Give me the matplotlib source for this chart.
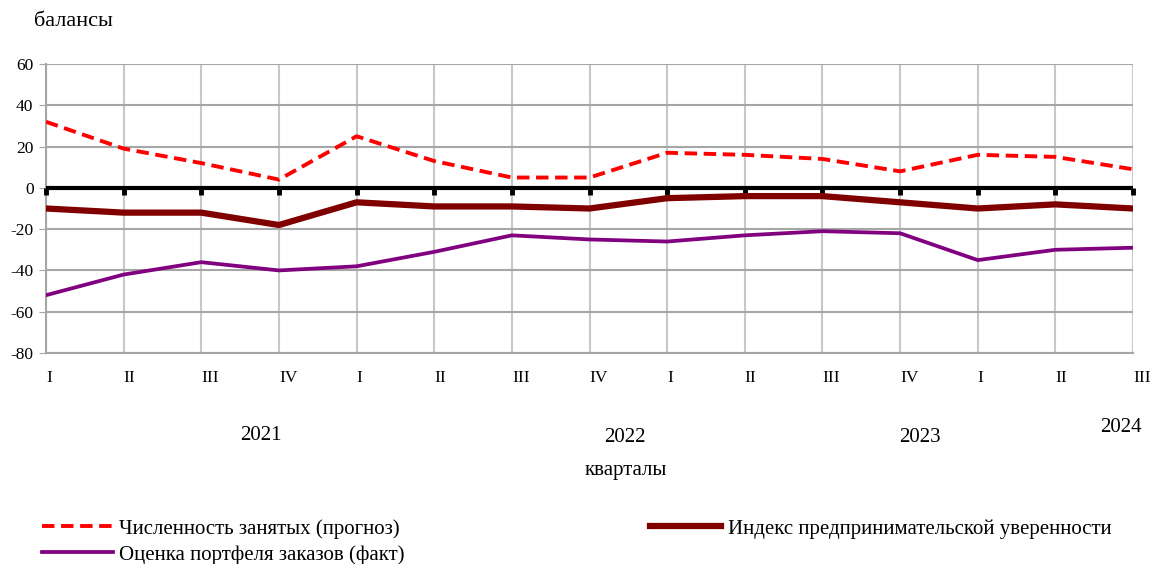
import numpy as np
import matplotlib.pyplot as plt
from matplotlib.markers import TICKDOWN

plt.rcParams['font.family'] = ['Liberation Serif', 'DejaVu Serif']
plt.rcParams['axes.unicode_minus'] = False

# quarters 2021 Q1 .. 2024 Q3
quarters = ['I', 'II', 'III', 'IV', 'I', 'II', 'III', 'IV',
            'I', 'II', 'III', 'IV', 'I', 'II', 'III']
years = ['2021', '2022', '2023', '2024']

employment = [32, 19, 12, 4, 25, 13, 5, 5, 17, 16, 14, 8, 16, 15, 9]
confidence = [-10, -12, -12, -18, -7, -9, -9, -10, -5, -4, -4, -7, -10, -8, -10]
orders = [-52, -42, -36, -40, -38, -31, -23, -25, -26, -23, -21, -22, -35, -30, -29]

x = np.arange(len(quarters))

fig = plt.figure(figsize=(11.51, 5.64), dpi=100)
ax = fig.add_axes([46 / 1151, 1 - 353 / 564, (1133 - 46) / 1151, (353 - 64) / 564])

# grid
ax.set_ylim(-80, 60)
ax.set_xlim(0, len(x) - 1)
ax.set_yticks(np.arange(-80, 61, 20))
ax.set_xticks(x)
ax.set_xticklabels(quarters, ha='left')
ax.grid(axis='y', color='#a6a6a6', lw=1.5)
ax.grid(axis='x', color='#c8c8c8', lw=1.5)
ax.set_axisbelow(True)
for s in ['top', 'right']:
    ax.spines[s].set_visible(False)
ax.spines['left'].set_color('#a6a6a6')
ax.spines['bottom'].set_color('#a6a6a6')
ax.spines['left'].set_linewidth(1.5)
ax.spines['bottom'].set_linewidth(1.5)
ax.tick_params(axis='y', length=5, color='#a6a6a6', labelsize=12.5, pad=4)
ax.tick_params(axis='x', length=0, labelsize=12.5, pad=12)

# zero line with category marks below it
ax.axhline(0, color='black', lw=3, zorder=3)
ax.plot(x, np.zeros(len(x)), ls='none', marker=TICKDOWN, ms=5, mew=3.5,
        color='black', zorder=3, clip_on=False)

l1, = ax.plot(x, employment, color='#ff0000', lw=2.8, ls=(0, (3.2, 1.7)),
              label='Численность занятых (прогноз)', zorder=4)
l2, = ax.plot(x, confidence, color='#800000', lw=4.5,
              label='Индекс предпринимательской уверенности', zorder=4)
l3, = ax.plot(x, orders, color='#800080', lw=2.7,
              label='Оценка портфеля заказов (факт)', zorder=4)

# year labels and axis captions
year_px = [(261, 435), (625, 437), (920, 437), (1121, 427)]
for yr, (px, py) in zip(years, year_px):
    fig.text(px / 1151, 1 - py / 564, yr, ha='center', va='center', fontsize=15)
fig.text(626 / 1151, 1 - 470 / 564, 'кварталы', ha='center', va='center',
         fontsize=15)
fig.text(34 / 1151, 1 - 22 / 564, 'балансы', ha='left', va='center',
         fontsize=16)

fig.legend(handles=[l1, l3, l2], ncol=2, loc='upper left',
           bbox_to_anchor=(42 / 1151, 1 - 519 / 564), frameon=False,
           fontsize=15, handlelength=3.4, handletextpad=0.3,
           columnspacing=11.8, labelspacing=0.3, borderaxespad=0,
           borderpad=0)

fig.savefig('out.png', dpi=100)
